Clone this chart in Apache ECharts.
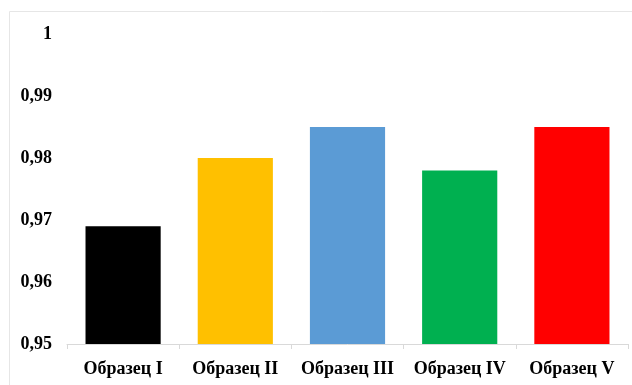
<!DOCTYPE html>
<html>
<head>
<meta charset="utf-8">
<script src="https://cdn.jsdelivr.net/npm/echarts@6/dist/echarts.min.js"></script>
<style>html,body{margin:0;padding:0;background:#fff}#c{width:632px;height:385px}</style>
</head>
<body>
<div id="c"></div>
<script>
var categories = ['Образец I', 'Образец II', 'Образец III', 'Образец IV', 'Образец V'];
var values = [0.969, 0.980, 0.985, 0.978, 0.985];
var colors = ['#000000', '#FFC000', '#5B9BD5', '#00B050', '#FF0000'];

var chart = echarts.init(document.getElementById('c'));
var font = '"Liberation Serif", "Times New Roman", serif';
chart.setOption({
  animation: false,
  graphic: [{
    type: 'rect', shape: {x: 9.5, y: 11.5, width: 640, height: 400},
    style: {fill: 'none', stroke: '#e6e6e6', lineWidth: 1}, silent: true
  }],
  grid: {left: 67, right: 4, top: 34, bottom: 41},
  xAxis: {
    type: 'category', data: categories,
    axisLine: {lineStyle: {color: '#d9d9d9'}},
    axisTick: {show: true, length: 5, lineStyle: {color: '#d9d9d9'}},
    axisLabel: {color: '#000', fontFamily: font, fontWeight: 'bold', fontSize: 18, margin: 16,
      interval: 0, hideOverlap: false}
  },
  yAxis: {
    type: 'value', min: 0.95, max: 1, interval: 0.01,
    splitLine: {show: false},
    axisLine: {show: false}, axisTick: {show: false},
    axisLabel: {color: '#000', fontFamily: font, fontWeight: 'bold', fontSize: 18, margin: 15,
      formatter: function (v) { var s = (Math.round(v * 100) / 100).toString(); return s.replace('.', ','); }}
  },
  series: [{
    type: 'bar', barCategoryGap: '33%',
    data: values.map(function (v, i) { return {value: v, itemStyle: {color: colors[i]}}; })
  }]
});
</script>
</body>
</html>
